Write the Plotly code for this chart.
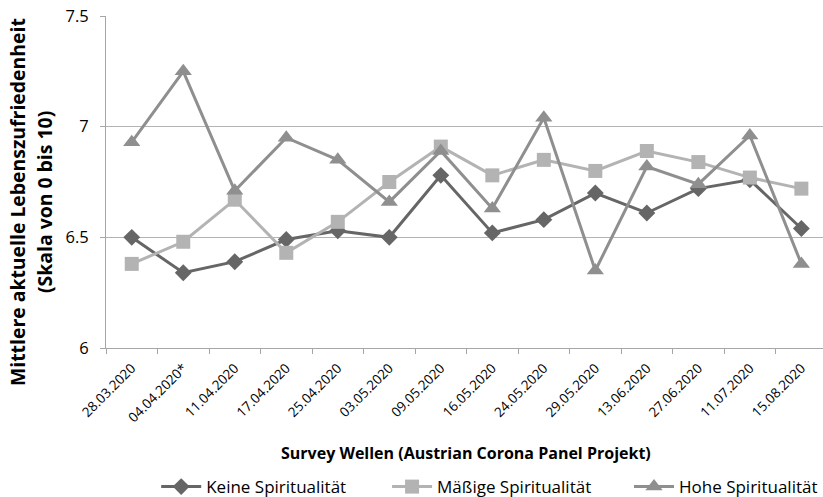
import plotly.graph_objects as go

waves = ["28.03.2020", "04.04.2020*", "11.04.2020", "17.04.2020", "25.04.2020",
         "03.05.2020", "09.05.2020", "16.05.2020", "24.05.2020", "29.05.2020",
         "13.06.2020", "27.06.2020", "11.07.2020", "15.08.2020"]
keine = [6.50, 6.34, 6.39, 6.49, 6.53, 6.50, 6.78, 6.52, 6.58, 6.70, 6.61, 6.72, 6.76, 6.54]
maessig = [6.38, 6.48, 6.67, 6.43, 6.57, 6.75, 6.91, 6.78, 6.85, 6.80, 6.89, 6.84, 6.77, 6.72]
hohe = [6.93, 7.25, 6.71, 6.95, 6.85, 6.66, 6.89, 6.63, 7.04, 6.35, 6.82, 6.74, 6.96, 6.38]

names = ["Keine Spiritualität", "Mäßige Spiritualität", "Hohe Spiritualität"]
colors = ["#666666", "#b3b3b3", "#8f8f8f"]
symbols = ["diamond", "square", "triangle-up"]
sizes = [13, 14, 15]
legend_ids = ["legend", "legend2", "legend3"]
legend_x = [0.070, 0.392, 0.748]

FONT = "Open Sans"
fig = go.Figure()
for vals, nm, col, sym, sz, lid in zip([keine, maessig, hohe], names, colors, symbols, sizes, legend_ids):
    fig.add_trace(go.Scatter(
        x=waves, y=vals, name=nm, mode="lines+markers",
        line=dict(color=col, width=3),
        marker=dict(symbol=sym, size=sz, color=col),
        legend=lid,
    ))

legend_common = dict(orientation="h", xanchor="left", yref="container", y=0.02,
                     yanchor="middle", font=dict(size=17, family=FONT),
                     itemwidth=40, bgcolor="rgba(0,0,0,0)")

fig.update_layout(
    width=823, height=497,
    margin=dict(l=106, r=0, t=16, b=149),
    paper_bgcolor="white", plot_bgcolor="white",
    font=dict(family=FONT, color="#000000", size=14),
    xaxis=dict(
        type="category", range=[-0.5, 13.42], automargin=False,
        tickson="boundaries", ticks="outside", ticklen=5, tickcolor="#a6a6a6",
        showgrid=False, showline=True, linecolor="#a6a6a6", linewidth=1,
        tickangle=-45, tickfont=dict(size=13.5, family=FONT, color="#000000"),
        ticklabelstandoff=6,
    ),
    yaxis=dict(
        range=[6, 7.5], dtick=0.5, tick0=6, automargin=False,
        ticks="outside", ticklen=5, tickcolor="#a6a6a6",
        showgrid=True, gridcolor="#b3b3b3", gridwidth=1,
        showline=True, linecolor="#a6a6a6", linewidth=1,
        tickfont=dict(size=16.5, family=FONT, color="#000000"), ticklabelstandoff=8,
        zeroline=False,
    ),
    legend=dict(x=legend_x[0], **legend_common),
    legend2=dict(x=legend_x[1], **legend_common),
    legend3=dict(x=legend_x[2], **legend_common),
    showlegend=True,
    annotations=[
        dict(text="<b>Survey Wellen (Austrian Corona Panel Projekt)</b>",
             xref="paper", yref="paper", x=0.5014, y=-0.3154,
             xanchor="center", yanchor="middle", showarrow=False,
             font=dict(size=16, family=FONT)),
        dict(text="<b>Mittlere aktuelle Lebenszufriedenheit</b>",
             xref="paper", yref="paper", x=(17 - 106) / 717, y=(348 - 202) / 332,
             xanchor="center", yanchor="middle", textangle=-90, showarrow=False,
             font=dict(size=19.4, family=FONT)),
        dict(text="<b>(Skala von 0 bis 10)</b>",
             xref="paper", yref="paper", x=(44 - 106) / 717, y=(348 - 202) / 332,
             xanchor="center", yanchor="middle", textangle=-90, showarrow=False,
             font=dict(size=19.4, family=FONT)),
    ],
)

fig.write_html("out.html", config={"displayModeBar": False},
               post_script="document.body.style.margin='0';")
